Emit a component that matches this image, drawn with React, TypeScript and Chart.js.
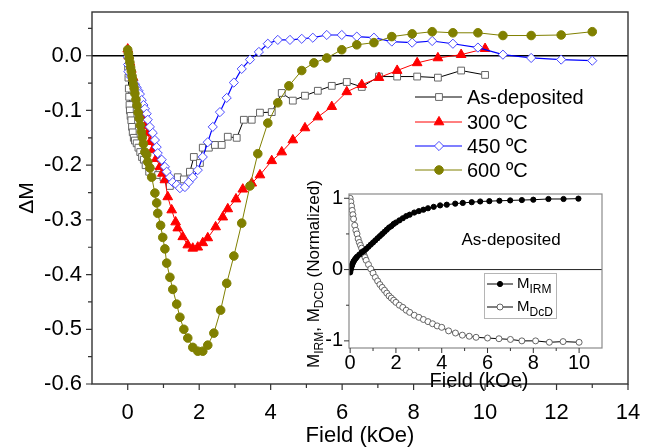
import React, { useEffect, useRef } from 'react';
import { Chart, registerables } from 'chart.js';

Chart.register(...registerables);

const FONT = '"Liberation Sans", Arial, Helvetica, sans-serif';

// ---------- Main plot data (Field in kOe, ΔM) ----------
const asDepField = [0, 0.01, 0.02, 0.03, 0.04, 0.05, 0.06, 0.08, 0.1, 0.12, 0.14, 0.17, 0.2, 0.25, 0.3, 0.35, 0.4, 0.45, 0.5, 0.6, 0.7, 0.85, 1.0, 1.18, 1.3, 1.4, 1.57, 1.74, 1.85, 2.02, 2.1, 2.27, 2.44, 2.63, 2.8, 3.05, 3.25, 3.47, 3.7, 4.03, 4.31, 4.62, 4.96, 5.32, 5.71, 6.13, 6.55, 7.03, 7.54, 8.1, 8.68, 9.33, 10.0];
const asDepDM = [0, -0.02, -0.04, -0.06, -0.075, -0.09, -0.1, -0.11, -0.118, -0.13, -0.14, -0.15, -0.155, -0.16, -0.168, -0.176, -0.185, -0.19, -0.2, -0.212, -0.212, -0.218, -0.222, -0.238, -0.227, -0.222, -0.226, -0.212, -0.185, -0.196, -0.168, -0.168, -0.163, -0.163, -0.148, -0.15, -0.117, -0.117, -0.104, -0.103, -0.068, -0.082, -0.073, -0.064, -0.055, -0.048, -0.057, -0.038, -0.038, -0.038, -0.04, -0.027, -0.035];

const c300Field = [0, 0.03, 0.06, 0.1, 0.15, 0.2, 0.28, 0.35, 0.42, 0.5, 0.56, 0.63, 0.7, 0.8, 0.9, 0.97, 1.04, 1.12, 1.23, 1.34, 1.4, 1.54, 1.68, 1.82, 1.96, 2.1, 2.24, 2.46, 2.66, 2.8, 3.03, 3.22, 3.47, 3.7, 4.03, 4.31, 4.62, 4.96, 5.32, 5.71, 6.13, 6.55, 7.03, 7.54, 8.1, 8.68, 9.33, 10.0];
const c300DM = [0.012, 0, -0.012, -0.025, -0.04, -0.055, -0.075, -0.092, -0.11, -0.128, -0.141, -0.157, -0.172, -0.188, -0.203, -0.215, -0.227, -0.258, -0.282, -0.304, -0.315, -0.331, -0.346, -0.352, -0.35, -0.342, -0.333, -0.313, -0.295, -0.28, -0.262, -0.244, -0.233, -0.218, -0.192, -0.176, -0.154, -0.132, -0.112, -0.093, -0.066, -0.053, -0.04, -0.027, -0.013, -0.004, 0.002, 0.013];

const c450Field = [0, 0.01, 0.02, 0.08, 0.14, 0.2, 0.25, 0.3, 0.34, 0.39, 0.44, 0.48, 0.53, 0.56, 0.62, 0.7, 0.76, 0.81, 0.84, 0.95, 1.04, 1.09, 1.18, 1.26, 1.37, 1.46, 1.6, 1.71, 1.82, 1.96, 2.1, 2.24, 2.38, 2.58, 2.77, 2.97, 3.19, 3.42, 3.67, 3.92, 4.2, 4.54, 4.87, 5.18, 5.57, 5.99, 6.41, 6.89, 7.39, 7.96, 8.52, 9.1, 9.8, 10.5, 11.29, 12.13, 13.0];
const c450DM = [-0.002, -0.016, -0.029, -0.038, -0.046, -0.052, -0.058, -0.064, -0.07, -0.081, -0.09, -0.097, -0.106, -0.117, -0.13, -0.141, -0.154, -0.167, -0.178, -0.19, -0.203, -0.212, -0.222, -0.231, -0.236, -0.242, -0.24, -0.231, -0.222, -0.209, -0.185, -0.158, -0.13, -0.103, -0.077, -0.049, -0.024, -0.007, 0.007, 0.022, 0.029, 0.029, 0.031, 0.033, 0.038, 0.038, 0.035, 0.033, 0.026, 0.024, 0.027, 0.022, 0.015, 0.002, -0.004, -0.007, -0.009];

const c600Field = [0, 0.02, 0.04, 0.06, 0.08, 0.1, 0.12, 0.14, 0.16, 0.18, 0.2, 0.23, 0.26, 0.29, 0.32, 0.35, 0.38, 0.41, 0.44, 0.48, 0.53, 0.56, 0.62, 0.67, 0.76, 0.81, 0.84, 0.92, 0.98, 1.04, 1.09, 1.18, 1.26, 1.37, 1.46, 1.57, 1.68, 1.82, 1.96, 2.1, 2.24, 2.41, 2.6, 2.77, 2.97, 3.19, 3.42, 3.64, 3.92, 4.2, 4.51, 4.87, 5.21, 5.57, 5.99, 6.41, 6.89, 7.39, 7.96, 8.52, 9.1, 9.8, 10.5, 11.29, 12.13, 13.0];
const c600DM = [0.011, 0.004, -0.004, -0.012, -0.021, -0.028, -0.037, -0.044, -0.053, -0.06, -0.069, -0.08, -0.091, -0.104, -0.114, -0.127, -0.139, -0.149, -0.161, -0.176, -0.181, -0.194, -0.205, -0.222, -0.251, -0.269, -0.288, -0.31, -0.332, -0.353, -0.379, -0.405, -0.427, -0.454, -0.478, -0.5, -0.516, -0.533, -0.54, -0.54, -0.529, -0.507, -0.465, -0.416, -0.366, -0.306, -0.238, -0.179, -0.123, -0.086, -0.055, -0.027, -0.013, -0.004, 0.011, 0.02, 0.024, 0.035, 0.04, 0.044, 0.042, 0.042, 0.037, 0.037, 0.038, 0.044];

const seriesLabels = ['As-deposited', '300 ºC', '450 ºC', '600 ºC'];

// ---------- Inset data (Field in kOe, normalized M) ----------
const irmField = [0, 0.02, 0.04, 0.06, 0.08, 0.1, 0.13, 0.16, 0.2, 0.25, 0.3, 0.4, 0.5, 0.6, 0.7, 0.8, 0.9, 1.0, 1.1, 1.2, 1.3, 1.4, 1.5, 1.6, 1.7, 1.8, 1.9, 2.0, 2.15, 2.3, 2.45, 2.6, 2.8, 3.0, 3.2, 3.4, 3.65, 3.93, 4.22, 4.59, 4.92, 5.31, 5.68, 6.08, 6.52, 6.99, 7.5, 8.0, 8.66, 9.32, 9.97];
const irmM = [-0.04, -0.01, 0.02, 0.04, 0.06, 0.08, 0.1, 0.12, 0.14, 0.16, 0.18, 0.21, 0.24, 0.26, 0.29, 0.32, 0.35, 0.38, 0.41, 0.44, 0.47, 0.5, 0.53, 0.56, 0.59, 0.61, 0.64, 0.66, 0.69, 0.72, 0.75, 0.77, 0.8, 0.82, 0.84, 0.86, 0.88, 0.9, 0.91, 0.925, 0.935, 0.945, 0.955, 0.96, 0.965, 0.97, 0.975, 0.98, 0.99, 0.99, 0.995];

const dcdField = [0, 0.03, 0.06, 0.09, 0.12, 0.15, 0.2, 0.25, 0.3, 0.35, 0.4, 0.45, 0.5, 0.55, 0.6, 0.65, 0.7, 0.8, 0.9, 1.0, 1.1, 1.2, 1.3, 1.4, 1.5, 1.6, 1.7, 1.8, 1.9, 2.0, 2.15, 2.3, 2.45, 2.6, 2.8, 3.0, 3.2, 3.4, 3.6, 3.8, 4.0, 4.3, 4.6, 4.9, 5.2, 5.5, 6.0, 6.5, 7.0, 7.5, 8.1, 8.7, 9.3, 10.0];
const dcdM = [1.0, 0.95, 0.89, 0.83, 0.77, 0.71, 0.62, 0.55, 0.5, 0.43, 0.38, 0.34, 0.3, 0.25, 0.21, 0.17, 0.13, 0.07, 0.01, -0.05, -0.11, -0.16, -0.21, -0.25, -0.29, -0.33, -0.37, -0.4, -0.43, -0.46, -0.5, -0.53, -0.57, -0.6, -0.64, -0.67, -0.7, -0.73, -0.76, -0.79, -0.81, -0.86, -0.89, -0.92, -0.935, -0.95, -0.96, -0.97, -0.98, -1.0, -1.0, -1.02, -1.01, -1.02];

// ---------- Tick values ----------
const xTicks = [0, 2, 4, 6, 8, 10, 12, 14];
const xMinorTicks = [1, 3, 5, 7, 9, 11, 13];
const yTicks = [-0.6, -0.5, -0.4, -0.3, -0.2, -0.1, 0];
const yMinorTicks = [-0.55, -0.45, -0.35, -0.25, -0.15, -0.05, 0.05];
const insetXTicks = [0, 2, 4, 6, 8, 10];
const insetXMinorTicks = [1, 3, 5, 7, 9];
const insetYTicks = [-1, 0, 1];
const insetYMinorTicks = [-0.5, 0.5];

type Pt = { x: number; y: number };
const toPoints = (xs: number[], ys: number[]): Pt[] => xs.map((x, i) => ({ x, y: ys[i] }));

function drawMarker(ctx: CanvasRenderingContext2D, style: string, x: number, y: number, r: number, fill: string, stroke: string, lw: number) {
  ctx.save();
  ctx.beginPath();
  if (style === 'rect') {
    const h = r * Math.SQRT1_2;
    ctx.rect(x - h, y - h, 2 * h, 2 * h);
  } else if (style === 'rectRot') {
    ctx.moveTo(x, y - r); ctx.lineTo(x + r, y); ctx.lineTo(x, y + r); ctx.lineTo(x - r, y); ctx.closePath();
  } else if (style === 'triangle') {
    ctx.moveTo(x, y - r); ctx.lineTo(x + 0.866 * r, y + 0.5 * r); ctx.lineTo(x - 0.866 * r, y + 0.5 * r); ctx.closePath();
  } else {
    ctx.arc(x, y, r, 0, Math.PI * 2);
  }
  ctx.fillStyle = fill; ctx.fill();
  ctx.lineWidth = lw; ctx.strokeStyle = stroke; ctx.stroke();
  ctx.restore();
}

type Part = [string, number, number];
function drawParts(ctx: CanvasRenderingContext2D, parts: Part[], x: number, baseline: number, center: boolean) {
  let total = 0;
  for (const p of parts) { ctx.font = `${p[1]}px ${FONT}`; total += ctx.measureText(p[0]).width; }
  let cx = center ? x - total / 2 : x;
  ctx.textAlign = 'left';
  ctx.textBaseline = 'alphabetic';
  for (const p of parts) {
    ctx.font = `${p[1]}px ${FONT}`;
    ctx.fillText(p[0], cx, baseline + p[2]);
    cx += ctx.measureText(p[0]).width;
  }
}

function ticksX(ctx: CanvasRenderingContext2D, scale: any, vals: number[], edge: number, len: number) {
  ctx.beginPath();
  for (const v of vals) { const p = scale.getPixelForValue(v); ctx.moveTo(p, edge); ctx.lineTo(p, edge + len); }
  ctx.stroke();
}
function ticksY(ctx: CanvasRenderingContext2D, scale: any, vals: number[], edge: number, len: number) {
  ctx.beginPath();
  for (const v of vals) { const p = scale.getPixelForValue(v); ctx.moveTo(edge, p); ctx.lineTo(edge - len, p); }
  ctx.stroke();
}

const zeroPad = (s: any) => { s.paddingTop = 0; s.paddingBottom = 0; s.paddingLeft = 0; s.paddingRight = 0; };

const mainDecor = {
  id: 'mainDecor',
  beforeDatasetsDraw(chart: any) {
    const { ctx, chartArea: a, scales } = chart;
    const y0 = scales.y.getPixelForValue(0);
    ctx.save();
    ctx.strokeStyle = '#000'; ctx.lineWidth = 1.5;
    ctx.beginPath(); ctx.moveTo(a.left, y0); ctx.lineTo(a.right, y0); ctx.stroke();
    ctx.restore();
  },
  afterDraw(chart: any) {
    const { ctx, chartArea: a, scales } = chart;
    ctx.save();
    ctx.strokeStyle = '#333'; ctx.lineWidth = 1.4;
    ctx.strokeRect(a.left, a.top, a.right - a.left, a.bottom - a.top);
    ctx.lineWidth = 1.2;
    ticksX(ctx, scales.x, xTicks, a.bottom, 6);
    ticksX(ctx, scales.x, xMinorTicks, a.bottom, 4);
    ticksY(ctx, scales.y, yTicks, a.left, 6);
    ticksY(ctx, scales.y, yMinorTicks, a.left, 4);

    ctx.fillStyle = '#000';
    ctx.font = `22px ${FONT}`;
    ctx.textAlign = 'center'; ctx.textBaseline = 'middle';
    ctx.fillText('Field (kOe)', (a.left + a.right) / 2, 436);
    ctx.save();
    ctx.translate(27, (a.top + a.bottom) / 2);
    ctx.rotate(-Math.PI / 2);
    ctx.font = `21px ${FONT}`;
    ctx.fillText('ΔM', 0, 0);
    ctx.restore();

    // legend
    const rows = [97, 122, 146, 170];
    chart.data.datasets.forEach((ds: any, i: number) => {
      const yy = rows[i];
      ctx.strokeStyle = ds.borderColor; ctx.lineWidth = ds.borderWidth;
      ctx.beginPath(); ctx.moveTo(415, yy); ctx.lineTo(462, yy); ctx.stroke();
      drawMarker(ctx, ds.pointStyle, 439, yy, ds.pointRadius, ds.pointBackgroundColor, ds.pointBorderColor, ds.pointBorderWidth);
      ctx.fillStyle = '#000';
      ctx.font = `20px ${FONT}`;
      ctx.textAlign = 'left'; ctx.textBaseline = 'middle';
      ctx.fillText(ds.label, 467, yy + 1);
    });
    ctx.restore();
  },
};

const insetDecor = {
  id: 'insetDecor',
  beforeDraw(chart: any) {
    const { ctx, chartArea: a } = chart;
    ctx.save();
    ctx.fillStyle = '#fff';
    ctx.fillRect(a.left, a.top, a.right - a.left, a.bottom - a.top);
    ctx.restore();
  },
  beforeDatasetsDraw(chart: any) {
    const { ctx, chartArea: a, scales } = chart;
    const y0 = scales.y.getPixelForValue(0);
    ctx.save();
    ctx.strokeStyle = '#222'; ctx.lineWidth = 1;
    ctx.beginPath(); ctx.moveTo(a.left, y0); ctx.lineTo(a.right, y0); ctx.stroke();
    ctx.restore();
  },
  afterDraw(chart: any) {
    const { ctx, chartArea: a, scales } = chart;
    ctx.save();
    ctx.strokeStyle = '#8a8a8a'; ctx.lineWidth = 1.2;
    ctx.strokeRect(a.left, a.top, a.right - a.left, a.bottom - a.top);
    ctx.strokeStyle = '#333'; ctx.lineWidth = 1;
    ticksX(ctx, scales.x, insetXTicks, a.bottom, 5);
    ticksX(ctx, scales.x, insetXMinorTicks, a.bottom, 3);
    ticksY(ctx, scales.y, insetYTicks, a.left, 5);
    ticksY(ctx, scales.y, insetYMinorTicks, a.left, 3);

    ctx.fillStyle = '#000';
    ctx.font = `20px ${FONT}`;
    ctx.textAlign = 'center'; ctx.textBaseline = 'middle';
    ctx.fillText('Field (kOe)', 479, 381);
    ctx.font = `17px ${FONT}`;
    ctx.fillText('As-deposited', 511, 240);

    // rotated y label with subscripts
    ctx.save();
    ctx.translate(313, 274);
    ctx.rotate(-Math.PI / 2);
    drawParts(ctx, [['M', 17, 0], ['IRM', 12, 4], [', M', 17, 0], ['DCD', 12, 4], [' (Normalized)', 17, 0]], 0, 6, true);
    ctx.restore();

    // legend box
    ctx.strokeStyle = '#b5b5b5'; ctx.lineWidth = 1;
    ctx.strokeRect(484.5, 273.5, 72, 45);
    const rows = [284, 307];
    const names: Part[][] = [[['M', 15, 0], ['IRM', 12, 5]], [['M', 15, 0], ['DcD', 12, 5]]];
    chart.data.datasets.forEach((ds: any, i: number) => {
      const yy = rows[i];
      ctx.strokeStyle = ds.borderColor; ctx.lineWidth = ds.borderWidth;
      ctx.beginPath(); ctx.moveTo(487, yy); ctx.lineTo(513, yy); ctx.stroke();
      drawMarker(ctx, 'circle', 500, yy, ds.pointRadius, ds.pointBackgroundColor, ds.pointBorderColor, ds.pointBorderWidth);
      ctx.fillStyle = '#000';
      drawParts(ctx, names[i], 517, yy + 4, false);
    });
    ctx.restore();
  },
};

export default function App() {
  const mainRef = useRef<HTMLCanvasElement>(null);
  const insetRef = useRef<HTMLCanvasElement>(null);

  useEffect(() => {
    document.body.style.margin = '0';
    const tickFont = { family: FONT, size: 22 };
    const main = new Chart(mainRef.current as HTMLCanvasElement, {
      type: 'line',
      data: {
        datasets: [
          { label: seriesLabels[0], data: toPoints(asDepField, asDepDM), borderColor: '#000', borderWidth: 1, pointStyle: 'rect', pointRadius: 4.8, pointBackgroundColor: '#fff', pointBorderColor: '#666', pointBorderWidth: 1, order: 3 },
          { label: seriesLabels[1], data: toPoints(c300Field, c300DM), borderColor: '#ff0000', borderWidth: 1, pointStyle: 'triangle', pointRadius: 5.6, pointBackgroundColor: '#ff0000', pointBorderColor: '#ff0000', pointBorderWidth: 1, order: 2 },
          { label: seriesLabels[2], data: toPoints(c450Field, c450DM), borderColor: '#0000ff', borderWidth: 1.2, pointStyle: 'rectRot', pointRadius: 4.6, pointBackgroundColor: '#fff', pointBorderColor: '#4a4aff', pointBorderWidth: 1, order: 1 },
          { label: seriesLabels[3], data: toPoints(c600Field, c600DM), borderColor: '#808000', borderWidth: 1, pointStyle: 'circle', pointRadius: 4.3, pointBackgroundColor: '#808000', pointBorderColor: '#808000', pointBorderWidth: 1, order: 0 },
        ] as any,
      },
      options: {
        responsive: false,
        animation: false,
        events: [],
        layout: { padding: { top: 12, right: 27, left: 0, bottom: 0 }, autoPadding: false } as any,
        plugins: { legend: { display: false }, tooltip: { enabled: false } },
        scales: {
          x: {
            type: 'linear', min: -1, max: 14,
            afterFit: (s: any) => { s.height = 64; zeroPad(s); },
            afterBuildTicks: (s: any) => { s.ticks = xTicks.map((v) => ({ value: v })); },
            grid: { display: false, drawTicks: false },
            border: { display: false },
            ticks: { font: tickFont, color: '#000', padding: 16, maxRotation: 0, autoSkip: false, callback: (v: any) => String(v) },
          },
          y: {
            type: 'linear', min: -0.6, max: 0.08,
            afterFit: (s: any) => { s.width = 92; zeroPad(s); },
            afterBuildTicks: (s: any) => { s.ticks = yTicks.map((v) => ({ value: v })); },
            grid: { display: false, drawTicks: false },
            border: { display: false },
            ticks: { font: tickFont, color: '#000', padding: 10, autoSkip: false, callback: (v: any) => (Math.abs(Number(v)) < 1e-9 ? '0.0' : Number(v).toFixed(1)) },
          },
        },
      } as any,
      plugins: [mainDecor],
    });

    const insetFont = { family: FONT, size: 20 };
    const inset = new Chart(insetRef.current as HTMLCanvasElement, {
      type: 'line',
      data: {
        datasets: [
          { label: 'M_IRM', data: toPoints(irmField, irmM), borderColor: '#000', borderWidth: 1, pointStyle: 'circle', pointRadius: 2.6, pointBackgroundColor: '#000', pointBorderColor: '#000', pointBorderWidth: 1, order: 0 },
          { label: 'M_DcD', data: toPoints(dcdField, dcdM), borderColor: '#000', borderWidth: 1, pointStyle: 'circle', pointRadius: 3, pointBackgroundColor: '#fff', pointBorderColor: '#555', pointBorderWidth: 0.9, order: 1 },
        ] as any,
      },
      options: {
        responsive: false,
        animation: false,
        events: [],
        layout: { padding: { top: 194, right: 53, left: 300, bottom: 40 }, autoPadding: false } as any,
        plugins: { legend: { display: false }, tooltip: { enabled: false } },
        scales: {
          x: {
            type: 'linear', min: -0.05, max: 11,
            afterFit: (s: any) => { s.height = 60; zeroPad(s); },
            afterBuildTicks: (s: any) => { s.ticks = insetXTicks.map((v) => ({ value: v })); },
            grid: { display: false, drawTicks: false },
            border: { display: false },
            ticks: { font: insetFont, color: '#000', padding: 3, maxRotation: 0, autoSkip: false, callback: (v: any) => String(v) },
          },
          y: {
            type: 'linear', min: -1.1, max: 1.06,
            afterFit: (s: any) => { s.width = 49; zeroPad(s); },
            afterBuildTicks: (s: any) => { s.ticks = insetYTicks.map((v) => ({ value: v })); },
            grid: { display: false, drawTicks: false },
            border: { display: false },
            ticks: { font: insetFont, color: '#000', padding: 6, autoSkip: false, callback: (v: any) => String(v) },
          },
        },
      } as any,
      plugins: [insetDecor],
    });

    return () => { main.destroy(); inset.destroy(); };
  }, []);

  return (
    <div style={{ position: 'relative', width: 655, height: 448, background: '#fff' }}>
      <canvas ref={mainRef} width={655} height={448} style={{ position: 'absolute', left: 0, top: 0 }} />
      <canvas ref={insetRef} width={655} height={448} style={{ position: 'absolute', left: 0, top: 0 }} />
    </div>
  );
}
